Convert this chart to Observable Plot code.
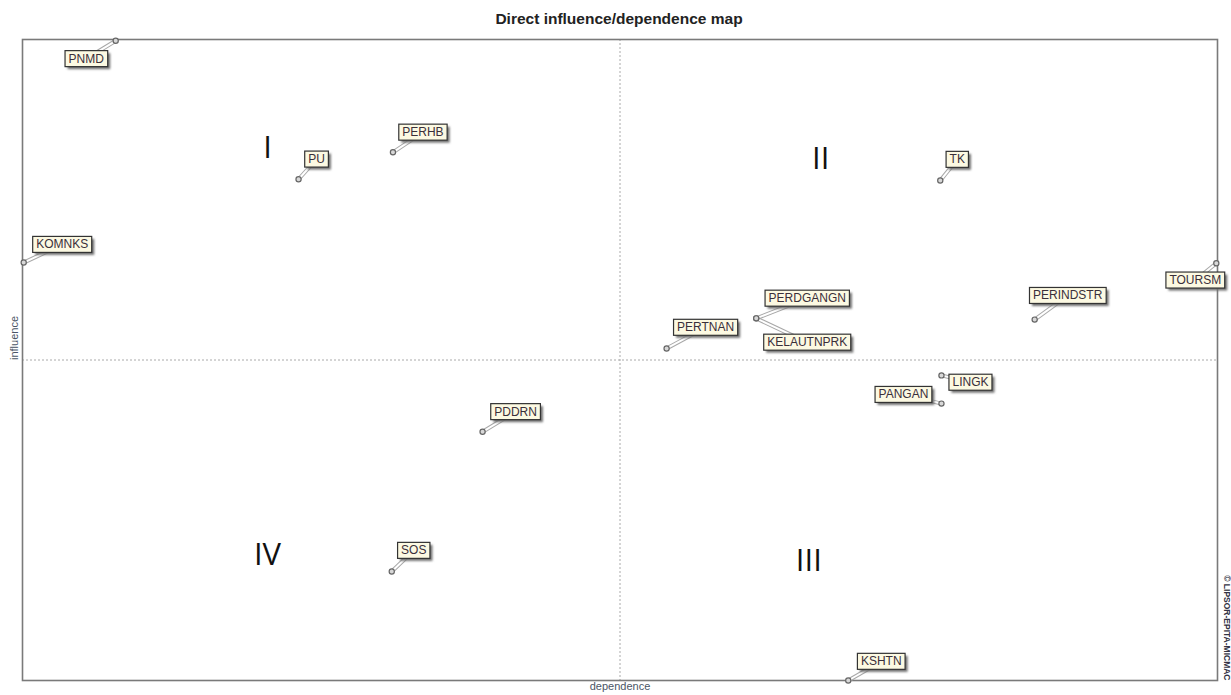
<!DOCTYPE html>
<html><head><meta charset="utf-8">
<script src="https://cdn.jsdelivr.net/npm/d3@7"></script>
<script src="https://cdn.jsdelivr.net/npm/@observablehq/plot@0.6"></script>
<style>
body{margin:0;background:#fff;width:1231px;height:695px;overflow:hidden;font-family:"Liberation Sans",Arial,sans-serif}
#title{height:30px;box-sizing:border-box;padding-top:10px;text-align:center;font-weight:bold;font-size:15.5px;line-height:18px;color:#222;padding-left:7px}
#chart svg{display:block}
</style></head><body>
<div id="title">Direct influence/dependence map</div>
<div id="chart"></div>
<script>
// Variables and their position on the direct influence/dependence map
const variables = ["PNMD","PERHB","PU","KOMNKS","TK","TOURSM","PERINDSTR","PERDGANGN","KELAUTNPRK","PERTNAN","LINGK","PANGAN","PDDRN","SOS","KSHTN"];
const dependence = [7.8,31.0,23.1,0.1,76.8,99.9,84.7,61.4,61.4,53.9,76.9,76.9,38.5,30.9,69.1];
const influence  = [99.8,82.4,78.2,65.2,78.0,65.1,56.3,56.5,56.5,51.8,47.6,43.2,38.8,17.0,0.0];
// Quadrant numerals
const quadrants = ["I","II","III","IV"];
const quadrantDependence = [20.5,66.8,65.8,20.5];
const quadrantInfluence  = [83.0,81.4,18.7,19.5];
// Label offsets from each point, in pixels (layout only)
const labelDx = [-29.5,30,18,38.5,17,-21,33,51,51,39,29,-38,33,22,33];
const labelDy = [18,-20,-20,-18,-21,17,-24,-20,24,-21,7,-9,-20,-21,-19];

const W = 1231, H = 665, ML = 22, MR = 14, MT = 9, MB = 15;
const kx = (W - ML - MR) / 100, ky = (H - MT - MB) / 100;

const rows = variables.map((name, i) => ({
  name, x: dependence[i], y: influence[i],
  lx: dependence[i] + labelDx[i] / kx,
  ly: influence[i] - labelDy[i] / ky
}));
const quads = quadrants.map((q, i) => ({q, x: quadrantDependence[i], y: quadrantInfluence[i]}));

const svg = Plot.plot({
  width: W, height: H,
  marginLeft: ML, marginRight: MR, marginTop: MT, marginBottom: MB,
  x: {domain: [0, 100], axis: null},
  y: {domain: [0, 100], axis: null},
  style: {fontFamily: "Liberation Sans, Arial, sans-serif", background: "white", overflow: "visible"},
  marks: [
    Plot.ruleX([50], {stroke: "#aaa", strokeDasharray: "2,2", strokeWidth: 1}),
    Plot.ruleY([50], {stroke: "#aaa", strokeDasharray: "2,2", strokeWidth: 1}),
    Plot.frame({stroke: "#7a7a7a", strokeWidth: 1.6}),
    Plot.text(quads, {x: "x", y: "y", text: "q", fontSize: 31, fontFamily: "Open Sans", fill: "#111"}),
    Plot.link(rows, {x1: "x", y1: "y", x2: "lx", y2: "ly", stroke: "#a8a8a8", strokeWidth: 4}),
    Plot.link(rows, {x1: "x", y1: "y", x2: "lx", y2: "ly", stroke: "#fff", strokeWidth: 2}),
    Plot.dot(rows, {x: "x", y: "y", r: 2.6, stroke: "#666", fill: "#d8d8d8", strokeWidth: 1.2}),
    Plot.text(rows, {x: "lx", y: "ly", text: "name", fontSize: 12, fill: "#3a2f3a"}),
    Plot.text(["dependence"], {frameAnchor: "bottom", dy: 9.5, fontSize: 11, fill: "#4a5566"}),
    Plot.text(["influence"], {frameAnchor: "left", rotate: -90, textAnchor: "start", dx: -8, fontSize: 11, fill: "#4a5566"}),
    Plot.text(["© LIPSOR-EPITA-MICMAC"], {frameAnchor: "bottom-right", rotate: 90, textAnchor: "end", dx: 6, fontSize: 8.5, fontWeight: "bold", fill: "#334"})
  ]
});
document.getElementById("chart").append(svg);

// Boxed labels with shadow
const ns = "http://www.w3.org/2000/svg";
const defs = document.createElementNS(ns, "defs");
defs.innerHTML = '<filter id="sh" x="-20%" y="-30%" width="140%" height="160%"><feGaussianBlur stdDeviation="0.8"/></filter>';
svg.insertBefore(defs, svg.firstChild);
const names = new Set(variables);
Array.from(svg.querySelectorAll("text")).forEach(function(el) {
  if (!names.has(el.textContent)) return;
  const b = el.getBBox();
  const t = el.getAttribute("transform");
  const px = 3.5, py = 1;
  const shadow = document.createElementNS(ns, "rect");
  shadow.setAttribute("x", b.x - px + 2.5);
  shadow.setAttribute("y", b.y - py + 2.5);
  shadow.setAttribute("width", b.width + 2 * px);
  shadow.setAttribute("height", b.height + 2 * py);
  shadow.setAttribute("fill", "#6f6f6f");
  shadow.setAttribute("filter", "url(#sh)");
  const box = document.createElementNS(ns, "rect");
  box.setAttribute("x", b.x - px);
  box.setAttribute("y", b.y - py);
  box.setAttribute("width", b.width + 2 * px);
  box.setAttribute("height", b.height + 2 * py);
  box.setAttribute("fill", "#fcf9e2");
  box.setAttribute("stroke", "#333");
  box.setAttribute("stroke-width", "1.2");
  if (t) { shadow.setAttribute("transform", t); box.setAttribute("transform", t); }
  el.parentNode.insertBefore(shadow, el);
  el.parentNode.insertBefore(box, el);
});
</script>
</body></html>
